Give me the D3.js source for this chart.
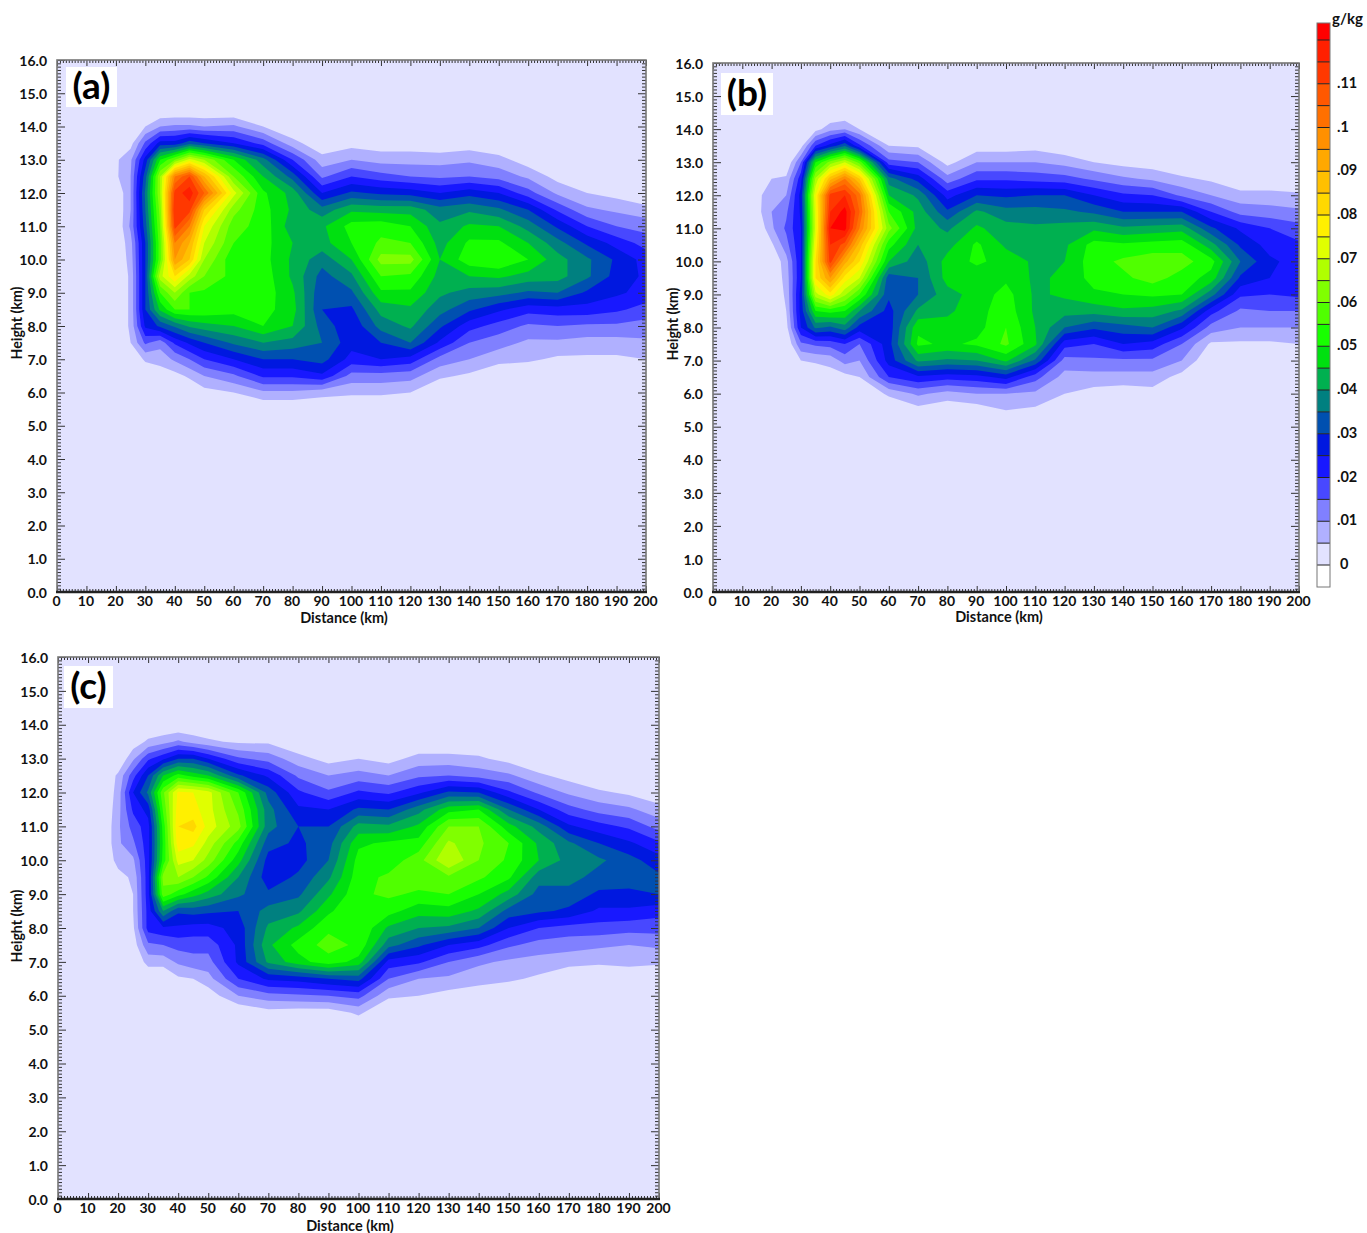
<!DOCTYPE html>
<html><head><meta charset="utf-8">
<script src="https://cdn.jsdelivr.net/npm/d3@7"></script>
<style>
html,body{margin:0;padding:0;background:#fff}
text{font-family:Lato,"Open Sans",sans-serif;font-weight:700;fill:#111}
</style></head><body>
<svg id="c" width="1367" height="1233"></svg>
<script>
// Mixing ratio in 0.001 g/kg. Each column lists heights 14.5 km down to 5.5 km.
const distances = [15,20,25,30,35,40,45,50,60,70,80,90,100,110,120,130,140,150,160,170,180,190,200];
const heights = [14.5,14,13.5,13,12.5,12,11.5,11,10.5,10,9.5,9,8.5,8,7.5,7,6.5,6,5.5];

const panelA = [
[0,0,0,0,0,0,0,0,0,0,0,0,0,0,0,0,0,0,0],
[0,0,0,4,4,0,0,0,0,0,0,0,0,0,0,0,0,0,0],
[0,0,3,9,10,10,10,11,8,7,6,6,6,6,5,0,0,0,0],
[0,5,16,27,33,36,35,33,30,30,30,30,30,26,16,6,0,0,0],
[0,10,27,50,65,65,62,60,58,58,68,55,46,31,12,7,2,0,0],
[0,11,27,60,100,112,115,112,100,95,80,65,55,36,21,11,3,0,0],
[0,11,33,72,110,118,112,100,90,85,68,55,55,41,26,15,6,0,0],
[0,10,30,65,90,105,85,75,70,65,60,54,54,43,30,20,10,3,0],
[0,11,25,50,60,72,62,57,55,51,53,53,52,45,36,25,14,5,0],
[0,5,18,37,45,51,52,53,52,52,53,53,52,50,40,30,21,9,0],
[0,0,7,20,33,43,44,42,45,44,44,46,47,45,38,30,21,9,0],
[0,0,1,7,14,25,37,44,43,37,33,31,30,33,35,32,24,7,0],
[0,0,3,10,20,31,44,52,50,45,39,34,29,26,27,23,13,6,0],
[0,0,2,8,17,29,43,53,56,62,55,49,42,37,30,25,13,6,0],
[0,0,2,8,15,28,43,50,55,62,54,49,44,41,35,23,12,5,0],
[0,0,1,8,14,25,37,41,43,45,43,41,37,31,24,13,6,0,0],
[0,0,2,9,15,28,39,46,51,53,45,38,31,22,15,10,4,0,0],
[0,0,0,7,13,25,36,45,51,55,46,37,26,18,12,7,0,0,0],
[0,0,0,2,9,17,30,38,45,50,43,34,22,14,9,6,0,0,0],
[0,0,0,0,3,9,19,29,37,42,42,35,23,15,9,4,0,0,0],
[0,0,0,0,0,5,11,20,29,36,36,29,23,14,8,4,0,0,0],
[0,0,0,0,0,3,9,15,23,29,28,26,21,14,8,4,0,0,0],
[0,0,0,0,0,0,7,13,18,23,24,23,18,13,9,5,0,0,0]];

const panelB = [
[0,0,0,0,0,3,3,0,0,0,0,0,0,0,0,0,0,0,0],
[0,0,0,0,5,9,10,9,4,0,0,0,0,0,0,0,0,0,0],
[0,0,0,0,6,10,14,16,13,8,7,6,5,3,0,0,0,0,0],
[0,0,3,15,23,27,26,25,25,25,25,27,27,25,14,5,0,0,0],
[0,3,20,50,66,75,73,72,76,80,80,68,50,36,16,6,0,0,0],
[0,8,27,62,88,112,115,120,115,112,95,78,52,34,17,7,2,0,0],
[0,10,34,70,100,115,122,122,108,92,78,66,50,38,20,12,3,0,0],
[0,5,21,58,85,102,105,100,88,80,70,55,40,28,15,10,5,0,0],
[0,0,5,17,37,45,55,62,52,45,32,31,28,27,28,27,20,6,0],
[0,0,4,15,28,39,43,43,40,37,35,35,41,49,51,41,24,11,3],
[0,0,0,3,12,23,31,39,43,47,47,43,44,47,49,39,22,8,1],
[0,0,2,10,19,30,41,46,51,51,47,47,48,48,51,40,23,10,2],
[0,0,2,10,19,29,37,42,44,48,49,52,53,55,56,46,27,10,5],
[0,0,3,10,18,30,37,41,43,44,44,44,44,45,46,34,17,9,4],
[0,0,1,8,17,30,36,42,44,45,46,46,42,35,22,13,8,5,0],
[0,0,0,5,14,25,34,44,52,53,52,49,42,31,20,14,8,3,0],
[0,0,0,3,11,21,30,41,51,56,54,50,44,33,25,14,8,2,0],
[0,0,0,2,9,20,30,42,52,58,57,51,43,35,23,14,8,3,0],
[0,0,0,0,6,14,30,43,53,57,53,50,39,26,15,10,3,0,0],
[0,0,0,0,4,10,20,31,42,52,48,37,22,13,4,0,0,0,0],
[0,0,0,0,0,7,13,24,29,35,29,21,14,10,4,0,0,0,0],
[0,0,0,0,0,7,12,20,23,26,25,20,15,10,4,0,0,0,0],
[0,0,0,0,0,6,11,17,21,23,23,21,15,10,5,0,0,0,0]];

const panelC = [
[0,0,0,0,0,0,0,0,0,0,0,0,0,0,0,0,0,0,0],
[0,0,0,0,6,7,8,9,9,7,3,0,0,0,0,0,0,0,0],
[0,0,2,9,18,25,21,17,14,9,6,5,5,4,2,0,0,0,0],
[0,0,6,19,30,36,27,23,23,23,23,23,22,22,14,7,0,0,0],
[0,0,8,24,45,59,56,52,51,52,62,58,40,24,15,7,0,0,0],
[0,0,11,30,52,76,78,80,78,72,65,52,31,24,17,11,4,0,0],
[0,0,8,30,48,75,77,82,76,70,60,47,32,23,17,13,5,0,0],
[0,0,6,25,45,72,72,73,68,63,54,43,31,23,17,13,8,2,0],
[0,0,4,16,31,55,59,62,53,47,40,36,30,27,26,26,20,10,0],
[0,0,4,13,24,33,37,37,32,28,27,31,37,41,44,41,26,13,3],
[0,0,0,7,14,21,26,30,29,28,31,34,39,46,52,48,27,14,2],
[0,0,0,3,10,16,25,30,33,35,39,44,49,54,57,53,30,15,2],
[0,0,0,5,12,21,31,42,49,52,53,54,55,55,54,48,32,17,6],
[0,0,0,3,10,19,30,41,51,52,56,56,52,44,37,23,15,6,0],
[0,0,0,7,14,24,38,46,52,58,58,54,47,40,31,21,10,5,0],
[0,0,0,7,15,31,48,60,66,70,59,55,48,39,25,15,9,3,0],
[0,0,0,6,13,30,50,60,61,60,56,50,44,35,22,11,7,2,0],
[0,0,0,3,11,21,35,47,55,54,51,43,33,25,16,9,6,0,0],
[0,0,0,0,6,14,25,38,44,45,37,33,31,20,13,8,4,0,0],
[0,0,0,0,3,9,17,26,36,38,37,33,29,18,12,7,0,0,0],
[0,0,0,0,0,6,13,22,30,36,33,29,24,18,11,6,0,0,0],
[0,0,0,0,0,4,11,19,26,32,32,29,24,17,10,7,0,0,0],
[0,0,0,0,0,1,7,13,21,27,31,30,22,17,11,6,0,0,0]];

const levels = d3.range(0,121,5);
const levelColors = ["#E2E2FF","#B0B0FF","#8080FF","#4848FF","#1818FF","#0018E0","#0050B0","#008080","#00B050","#00E010","#18FF00","#50FF00","#80FF00","#B0FF00","#E0FF00","#FFF000","#FFD800","#FFC000","#FFA800","#FF9000","#FF7000","#FF5800","#FF3800","#FF2000","#FF0000"];
const colorbarLabels = [[0,"0"],[10,".01"],[20,".02"],[30,".03"],[40,".04"],[50,".05"],[60,".06"],[70,".07"],[80,".08"],[90,".09"],[100,".1"],[110,".11"]];

const panels = [
 {id:"a",name:"(a)",cols:panelA,L:57,R:646,T:60,B:592,bx:[66,67,51,40],tx:344,ty:623,hx:22,hy:323},
 {id:"b",name:"(b)",cols:panelB,L:713,R:1299,T:63,B:592,bx:[721,73,52,42],tx:999,ty:622,hx:678,hy:324},
 {id:"c",name:"(c)",cols:panelC,L:58,R:659,T:657,B:1199,bx:[64,666,49,42],tx:350,ty:1231,hx:22,hy:926}
];

const svg = d3.select("#c");
const xGrid = [0,...distances];
const yGrid = [16,15,...heights,5,0];

panels.forEach(p=>{
  const x = d3.scaleLinear([0,200],[p.L,p.R]);
  const y = d3.scaleLinear([0,16],[p.B,p.T]);
  const nx = xGrid.length, ny = yGrid.length;
  const grid = new Array(nx*ny).fill(0);
  p.cols.forEach((col,i)=>col.forEach((v,j)=>{ grid[(j+2)*nx+(i+1)] = v; }));
  const xIdx = d3.scaleLinear().domain(d3.range(nx)).range(xGrid).clamp(true);
  const yIdx = d3.scaleLinear().domain(d3.range(ny)).range(yGrid).clamp(true);
  const path = d3.geoPath();
  const g = svg.append("g");
  g.append("clipPath").attr("id","clip"+p.id).append("rect")
    .attr("x",p.L).attr("y",p.T).attr("width",p.R-p.L).attr("height",p.B-p.T);
  const marks = g.append("g").attr("clip-path",`url(#clip${p.id})`);
  d3.contours().size([nx,ny]).thresholds(levels)(grid).forEach((c,i)=>{
    const geo = {type:"MultiPolygon",coordinates:c.coordinates.map(poly=>poly.map(ring=>
      ring.map(([a,b])=>[x(xIdx(a-0.5)),y(yIdx(b-0.5))])))};
    marks.append("path").attr("d",path(geo)).attr("fill",levelColors[i]);
  });

  // panel label
  g.append("rect").attr("x",p.bx[0]).attr("y",p.bx[1]).attr("width",p.bx[2]).attr("height",p.bx[3]).attr("fill","#fff");
  g.append("text").attr("x",p.bx[0]+p.bx[2]/2).attr("y",p.bx[1]+p.bx[3]/2+12).attr("text-anchor","middle")
    .style("font-size","37px").style("fill","#000").text(p.name);

  const xMajor = d3.range(0,201,10), xMinor = d3.range(0,201,1).filter(d=>d%10);
  const yMajor = d3.range(0,17,1), yMinor = d3.range(0,160,1).map(d=>d/10).filter(d=>d%1);
  const add = (axis,tx,ty)=>{
    const s = g.append("g").attr("transform",`translate(${tx},${ty})`).call(axis);
    s.select(".domain").remove();
    s.selectAll("line").attr("stroke","#333").attr("stroke-width",1);
    s.selectAll("text").style("font-size","14px").style("font-family",null);
    return s;
  };
  add(d3.axisBottom(x).tickValues(xMinor).tickSize(-3).tickFormat(""),0,p.B);
  add(d3.axisTop(x).tickValues(xMinor).tickSize(-3).tickFormat(""),0,p.T);
  add(d3.axisLeft(y).tickValues(yMinor).tickSize(-4).tickFormat(""),p.L,0);
  add(d3.axisRight(y).tickValues(yMinor).tickSize(-4).tickFormat(""),p.R,0);
  add(d3.axisBottom(x).tickValues(xMajor).tickSize(-6).tickPadding(4).tickFormat(d3.format("d")),0,p.B)
    .selectAll("text").attr("dx",-1);
  add(d3.axisTop(x).tickValues(xMajor).tickSize(-6).tickFormat(""),0,p.T);
  add(d3.axisLeft(y).tickValues(yMajor).tickSize(-8).tickPadding(10).tickFormat(d3.format(".1f")),p.L,0)
    .selectAll("text").attr("dy",5.2);
  add(d3.axisRight(y).tickValues(yMajor).tickSize(-8).tickFormat(""),p.R,0);

  g.append("rect").attr("x",p.L).attr("y",p.T).attr("width",p.R-p.L).attr("height",p.B-p.T)
    .attr("fill","none").attr("stroke","#777").attr("stroke-width",1.6);
  g.append("line").attr("x1",p.L-1).attr("x2",p.R+1).attr("y1",p.B).attr("y2",p.B).attr("stroke","#222").attr("stroke-width",2.4);

  g.append("text").attr("x",p.tx).attr("y",p.ty).attr("text-anchor","middle").style("font-size","14.5px").text("Distance (km)");
  g.append("text").attr("transform",`translate(${p.hx},${p.hy}) rotate(-90)`).attr("text-anchor","middle").style("font-size","14.2px").text("Height (km)");
});

// colour bar
const cb = d3.scaleLinear([0,120],[565,40]);
const cbg = svg.append("g");
const cbX = 1317, cbW = 13;
cbg.append("rect").attr("x",cbX).attr("y",565).attr("width",cbW).attr("height",22).attr("fill","#fff");
levels.forEach((lv,i)=>{
  const top = i===levels.length-1 ? 23 : cb(levels[i+1]);
  cbg.append("rect").attr("x",cbX).attr("y",top).attr("width",cbW).attr("height",cb(lv)-top).attr("fill",levelColors[i]);
  cbg.append("line").attr("x1",cbX).attr("x2",cbX+cbW).attr("y1",cb(lv)).attr("y2",cb(lv)).attr("stroke","#222").attr("stroke-width",1);
});
cbg.append("rect").attr("x",cbX).attr("y",23).attr("width",cbW).attr("height",564).attr("fill","none").attr("stroke","#777").attr("stroke-width",1);
colorbarLabels.forEach(([v,t])=>{
  cbg.append("text").attr("x",v===0?1340:1337).attr("y",cb(v)+4).style("font-size","14.5px").text(t);
});
cbg.append("text").attr("x",1332).attr("y",24).style("font-size","15px").text("g/kg");
</script>
</body></html>
